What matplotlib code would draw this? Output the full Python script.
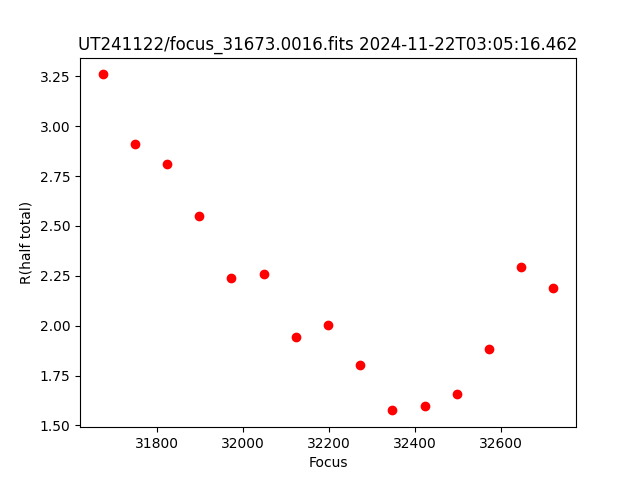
import numpy as np
import matplotlib
matplotlib.use("Agg")
import matplotlib.pyplot as plt

# Значения фокуса и радиуса (половина полного потока)
focus = [31673, 31748, 31823, 31898, 31973, 32048, 32123, 32198,
         32273, 32348, 32423, 32498, 32573, 32648, 32723]
r_half = [3.260, 2.909, 2.809, 2.548, 2.237, 2.257, 1.941, 2.002,
          1.801, 1.575, 1.595, 1.656, 1.881, 2.292, 2.187]

title = "UT241122/focus_31673.0016.fits 2024-11-22T03:05:16.462"

plt.figure(figsize=(6.4, 4.8), dpi=100)
plt.plot(focus, r_half, 'ro')
plt.title(title)
plt.xlabel('Focus')
plt.ylabel('R(half total)')
plt.savefig('out.png')
